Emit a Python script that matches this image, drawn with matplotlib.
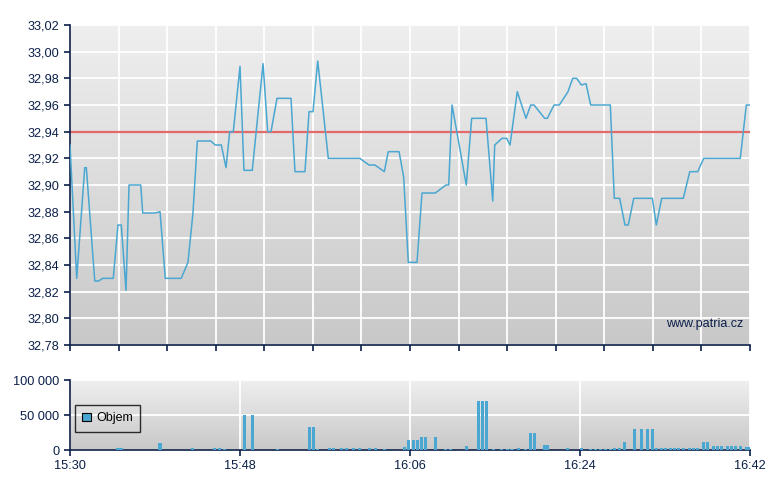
import numpy as np
import matplotlib
matplotlib.use("Agg")
import matplotlib.pyplot as plt
from matplotlib.ticker import FuncFormatter
from matplotlib.colors import LinearSegmentedColormap

plt.rcParams['font.family'] = ['Liberation Sans', 'DejaVu Sans']

# price trades, time as minutes after 15:30
price_min = [0.0, 0.71, 1.56, 1.73, 2.62, 3.04, 3.46, 4.58, 5.08, 5.43, 5.93, 6.25,
             7.49, 7.70, 9.03, 9.53, 10.09, 11.78, 12.49, 13.02, 13.48, 14.90, 15.38,
             16.02, 16.52, 16.91, 17.29, 18.0, 18.42, 19.30, 20.44, 20.93, 21.28, 21.92,
             23.40, 23.82, 24.88, 25.31, 25.73, 26.23, 27.35, 30.67, 31.66, 32.29, 33.28,
             33.70, 34.84, 35.33, 35.82, 36.74, 37.27, 38.68, 39.81, 40.10, 40.45, 41.96,
             42.53, 44.05, 44.76, 44.97, 45.74, 46.24, 46.59, 47.36, 48.28, 48.78, 49.13,
             50.26, 50.54, 51.25, 51.81, 52.73, 53.23, 53.65, 54.14, 54.64, 55.13, 57.21,
             57.63, 58.20, 58.76, 59.11, 59.69, 61.66, 62.08, 62.65, 64.94, 65.62, 66.46,
             67.10, 70.97, 71.61, 72.0]
price = [32.93, 32.83, 32.913, 32.913, 32.828, 32.828, 32.83, 32.83, 32.87, 32.87, 32.821, 32.90,
         32.90, 32.879, 32.879, 32.88, 32.83, 32.83, 32.842, 32.879, 32.933, 32.933, 32.93,
         32.93, 32.913, 32.94, 32.94, 32.989, 32.911, 32.911, 32.991, 32.94, 32.94, 32.965,
         32.965, 32.91, 32.91, 32.955, 32.955, 32.993, 32.92, 32.92, 32.915, 32.915, 32.91,
         32.925, 32.925, 32.906, 32.842, 32.842, 32.894, 32.894, 32.90, 32.90, 32.96, 32.90,
         32.95, 32.95, 32.888, 32.93, 32.935, 32.935, 32.93, 32.97, 32.95, 32.96, 32.96,
         32.95, 32.95, 32.96, 32.96, 32.97, 32.98, 32.98, 32.975, 32.976, 32.96, 32.96,
         32.89, 32.89, 32.87, 32.87, 32.89, 32.89, 32.87, 32.89, 32.89, 32.91, 32.91,
         32.92, 32.92, 32.96, 32.96]
ref_price = 32.94

vol_min = [5.05, 5.4, 9.53, 13.02, 15.35, 15.88, 16.41, 18.48, 19.32, 21.97, 25.36, 25.78,
           26.21, 27.48, 27.90, 28.75, 29.28, 30.02, 30.65, 31.71, 32.35, 33.35, 35.40,
           35.82, 36.34, 36.77, 37.21, 37.59, 38.70, 39.81, 40.24, 41.98, 43.25, 43.67,
           44.10, 44.84, 45.69, 46.32, 46.80, 47.49, 48.23, 48.73, 49.18, 50.24, 50.61,
           52.68, 54.16, 55.11, 55.69, 56.12, 56.70, 57.23, 57.65, 58.18, 58.71, 59.77,
           60.51, 61.15, 61.68, 62.10, 62.63, 63.05, 63.58, 64.00, 64.43, 64.96, 65.59,
           66.06, 66.49, 67.08, 67.50, 68.14, 68.56, 68.98, 69.62, 70.04, 70.46, 70.99,
           71.62, 71.94]
volume = [2900, 2900, 10000, 2900, 2900, 2900, 1500, 50000, 50000, 1500, 33000, 33000,
          1500, 2900, 2900, 2900, 2900, 2900, 2900, 2900, 2900, 1500, 4300,
          14300, 14300, 14300, 18600, 18600, 18600, 1500, 1500, 5700, 70000, 70000,
          70000, 1500, 1500, 1500, 1500, 2900, 1500, 24300, 24300, 7100, 7100,
          2900, 2900, 1500, 1500, 1500, 1500, 1500, 2900, 2900, 11400, 30000,
          30000, 30000, 30000, 2900, 2900, 2900, 2900, 2900, 2900, 2900, 2900,
          2900, 2900, 11400, 11400, 5700, 5700, 5700, 5700, 5700, 5700, 5700,
          4300, 4300]

time_labels = ['15:30', '15:48', '16:06', '16:24', '16:42']

navy = '#0b1f48'
blue = '#4aa7d1'
grad = LinearSegmentedColormap.from_list('g', ['#c8c8c8', '#efefef'])


def background(ax):
    ax.imshow(np.linspace(0, 1, 256).reshape(-1, 1)[::-1], extent=[0, 1, 0, 1],
              transform=ax.transAxes, aspect='auto', cmap=grad, zorder=-1)
    for s in ['top', 'right']:
        ax.spines[s].set_visible(False)
    for s in ['left', 'bottom']:
        ax.spines[s].set_color(navy)
        ax.spines[s].set_linewidth(1.2)
    ax.tick_params(colors=navy, labelcolor=navy, labelsize=9.2, length=4, width=1.2)
    ax.grid(True, color='white', linewidth=1.3)
    ax.set_axisbelow(True)


fig = plt.figure(figsize=(7.8, 4.9), dpi=100)
ax = fig.add_axes([70 / 780, 145 / 490, 680 / 780, 320 / 490])
background(ax)
ax.plot(price_min, price, color=blue, linewidth=1.1, zorder=3)
ax.axhline(ref_price, color='#e36a6a', linewidth=1.6, zorder=2)
ax.set_xlim(0, 72)
ax.set_ylim(32.78, 33.02)
ax.set_xticks(np.linspace(0, 72, 15))
ax.set_xticklabels([])
ax.set_yticks(np.arange(32.78, 33.021, 0.02))
ax.yaxis.set_major_formatter(FuncFormatter(lambda v, p: f"{v:.2f}".replace('.', ',')))
ax.text(0.99, 0.065, 'www.patria.cz', transform=ax.transAxes, ha='right', va='center',
        color=navy, fontsize=9)

axv = fig.add_axes([70 / 780, 40 / 490, 680 / 780, 70 / 490])
background(axv)
axv.bar(vol_min, volume, width=0.32, color=blue, label='Objem', zorder=3)
axv.set_xlim(0, 72)
axv.set_ylim(0, 100000)
axv.set_yticks([0, 50000, 100000])
axv.yaxis.set_major_formatter(FuncFormatter(lambda v, p: f"{int(v):,}".replace(',', ' ')))
axv.set_xticks(np.linspace(0, 72, 5))
axv.set_xticklabels(time_labels)
leg = axv.legend(loc='upper left', bbox_to_anchor=(0.007, 0.643), borderaxespad=0,
                 fontsize=9, frameon=True, fancybox=False, handlelength=0.7,
                 handleheight=0.7, handletextpad=0.4, borderpad=0.6, labelcolor='black')
leg.get_frame().set_edgecolor('black')
leg.get_frame().set_facecolor('none')
leg.get_frame().set_linewidth(1.0)
for h in leg.legend_handles:
    h.set_edgecolor('black')
    h.set_linewidth(0.8)

fig.savefig('out.png', dpi=100)
